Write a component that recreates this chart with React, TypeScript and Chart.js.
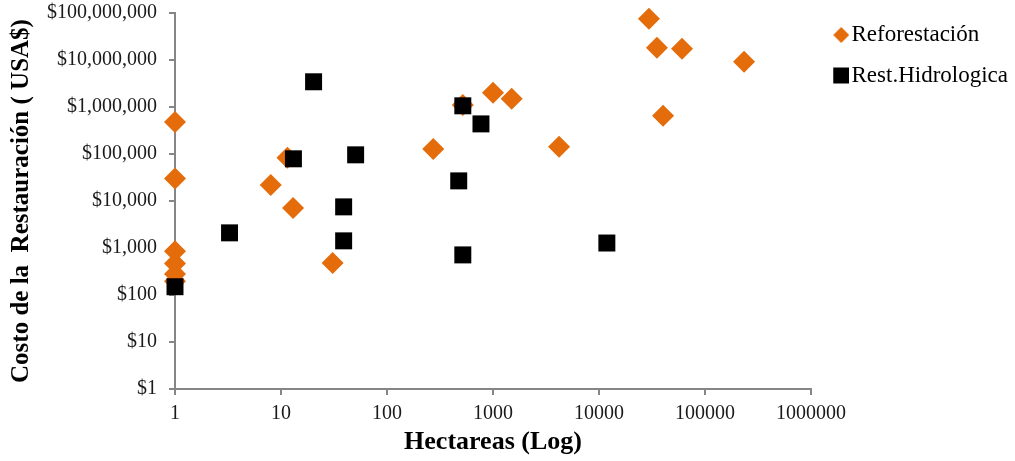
import React, { useEffect, useRef } from 'react';
import { Chart, registerables } from 'chart.js';

Chart.register(...registerables);

// ---- data ----
const seriesNames = ['Reforestación', 'Rest.Hidrologica'];

const reforestHa = [1, 1, 1, 1, 1, 1, 8, 11.5, 13, 30.7, 273, 519, 1000, 1500, 4200, 29600, 35200, 60700, 40200, 233500];
const reforestCost = [480000, 30000, 850, 470, 280, 195, 22000, 83000, 7100, 480, 128000, 1100000, 2000000, 1500000, 142000, 75600000, 18200000, 17400000, 650000, 9200000];

const hidroHa = [1, 3.27, 20.3, 13.1, 50.6, 39, 39, 519, 770, 475, 519, 11860];
const hidroCost = [150, 2100, 3440000, 79000, 96000, 7500, 1420, 1060000, 437000, 26800, 713, 1276];

const xTickValues = [1, 10, 100, 1000, 10000, 100000, 1000000];
const xTickLabels = ['1', '10', '100', '1000', '10000', '100000', '1000000'];
const yTickValues = [1, 10, 100, 1000, 10000, 100000, 1000000, 10000000, 100000000];
const yTickLabels = ['$1', '$10', '$100', '$1,000', '$10,000', '$100,000', '$1,000,000', '$10,000,000', '$100,000,000'];

const xTitle = 'Hectareas (Log)';
const yTitle = 'Costo de la  Restauración ( USA$)';

// ---- styles ----
const W = 1015;
const H = 461;
const ORANGE = '#E46C0A';
const BLACK = '#000000';
const AXIS = '#868686';
const SERIF = '"Liberation Serif", "Times New Roman", serif';
const LEGEND_SIZE = 23;
const LEGEND_PAD = 17.5;
const LEGEND_BOX = 11.5;
const PLOT_RIGHT = 811;

function makeMarker(kind: 'diamond' | 'square', color: string): HTMLCanvasElement {
  const c = document.createElement('canvas');
  c.width = 30;
  c.height = 20;
  const ctx = c.getContext('2d')!;
  ctx.fillStyle = color;
  const cx = 15 + 7;
  const cy = 10;
  if (kind === 'diamond') {
    ctx.beginPath();
    ctx.moveTo(cx - 8, cy);
    ctx.lineTo(cx, cy - 8);
    ctx.lineTo(cx + 8, cy);
    ctx.lineTo(cx, cy + 8);
    ctx.closePath();
    ctx.fill();
  } else {
    ctx.fillRect(cx - 8, cy - 8, 16, 16);
  }
  return c;
}

export default function App() {
  const ref = useRef<HTMLCanvasElement | null>(null);

  useEffect(() => {
    if (!ref.current) return;
    const markers = [makeMarker('diamond', ORANGE), makeMarker('square', BLACK)];
    const colors = [ORANGE, BLACK];

    // measure legend natural width so that the plot area ends at PLOT_RIGHT
    const mctx = document.createElement('canvas').getContext('2d')!;
    mctx.font = `${LEGEND_SIZE}px ${SERIF}`;
    const maxText = Math.max(...seriesNames.map((s) => mctx.measureText(s).width));
    const natural = LEGEND_PAD + LEGEND_BOX + LEGEND_SIZE / 2 + maxText + 10;
    const legendW = W - PLOT_RIGHT;
    const padRight = Math.max(0, legendW - natural);

    const chart = new Chart(ref.current, {
      type: 'scatter',
      data: {
        datasets: [
          {
            label: seriesNames[0],
            data: reforestHa.map((x, i) => ({ x, y: reforestCost[i] })),
            backgroundColor: ORANGE,
            borderColor: ORANGE,
            borderWidth: 0,
            pointStyle: 'rectRot',
            pointRadius: 11,
            pointHoverRadius: 11,
            clip: false,
            order: 1,
          },
          {
            label: seriesNames[1],
            data: hidroHa.map((x, i) => ({ x, y: hidroCost[i] })),
            backgroundColor: BLACK,
            borderColor: BLACK,
            borderWidth: 0,
            pointStyle: 'rect',
            pointRadius: 12,
            pointHoverRadius: 12,
            clip: false,
            order: 0,
          },
        ],
      },
      options: {
        responsive: false,
        animation: false,
        events: [],
        layout: { padding: { top: 6, right: padRight, left: 0, bottom: 0 } },
        plugins: {
          tooltip: { enabled: false },
          legend: {
            display: true,
            position: 'right',
            align: 'start',
            maxWidth: legendW,
            labels: {
              usePointStyle: true,
              pointStyleWidth: LEGEND_BOX,
              padding: LEGEND_PAD,
              color: '#000',
              font: { family: SERIF, size: LEGEND_SIZE },
              generateLabels: (ch: any) =>
                seriesNames.map((name, i) => ({
                  text: name,
                  fillStyle: colors[i],
                  strokeStyle: colors[i],
                  lineWidth: 0,
                  hidden: !ch.isDatasetVisible(i),
                  datasetIndex: i,
                  pointStyle: markers[i],
                  rotation: 0,
                  fontColor: '#000',
                })),
            },
          },
        },
        scales: {
          x: {
            type: 'logarithmic',
            position: 'bottom',
            min: 1,
            max: 1000000,
            afterBuildTicks: (s: any) => {
              s.ticks = xTickValues.map((v) => ({ value: v }));
            },
            afterFit: (s: any) => {
              s.height = 72;
              s.paddingLeft = 0;
              s.paddingRight = 0;
            },
            ticks: {
              autoSkip: false,
              maxRotation: 0,
              padding: 7,
              color: '#1a1a1a',
              font: { family: SERIF, size: 20 },
              callback: (v: any) => xTickLabels[xTickValues.indexOf(Number(v))] ?? '',
            },
            grid: {
              display: true,
              drawOnChartArea: false,
              drawTicks: true,
              tickLength: 6,
              color: AXIS,
              lineWidth: 2,
            },
            border: { display: true, color: AXIS, width: 2 },
            title: {
              display: true,
              text: xTitle,
              color: '#000',
              font: { family: SERIF, size: 26, weight: 'bold' },
              padding: { top: 0, bottom: 3 },
            },
          },
          y: {
            type: 'logarithmic',
            position: 'left',
            min: 1,
            max: 100000000,
            afterBuildTicks: (s: any) => {
              s.ticks = yTickValues.map((v) => ({ value: v }));
            },
            afterFit: (s: any) => {
              s.width = 175;
              s.paddingTop = 13;
              s.paddingBottom = 0;
            },
            ticks: {
              autoSkip: false,
              padding: 12,
              color: '#1a1a1a',
              font: { family: SERIF, size: 20 },
              callback: (v: any) => yTickLabels[yTickValues.indexOf(Number(v))] ?? '',
            },
            grid: {
              display: true,
              drawOnChartArea: false,
              drawTicks: true,
              tickLength: 6,
              color: AXIS,
              lineWidth: 2,
            },
            border: { display: true, color: AXIS, width: 2 },
            title: {
              display: true,
              text: yTitle,
              color: '#000',
              font: { family: SERIF, size: 25, weight: 'bold' },
              padding: { top: 7, bottom: 0 },
            },
          },
        },
      },
    } as any);

    return () => chart.destroy();
  }, []);

  return (
    <div style={{ position: 'absolute', left: 0, top: 0, width: W, height: H, background: '#fff' }}>
      <canvas ref={ref} width={W} height={H} style={{ display: 'block', width: W, height: H }} />
    </div>
  );
}
